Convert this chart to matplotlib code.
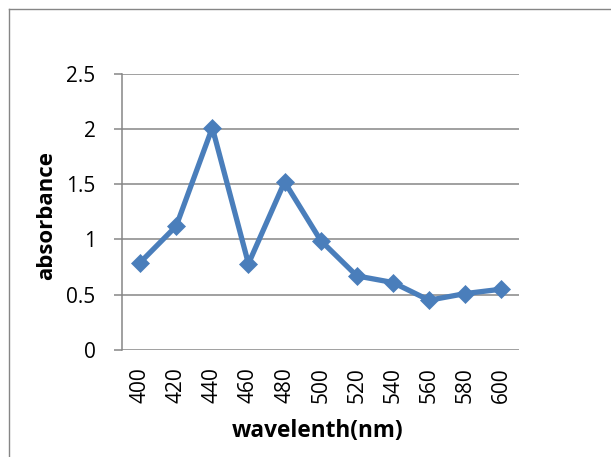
import matplotlib
matplotlib.use("Agg")
import matplotlib.pyplot as plt
from matplotlib.lines import Line2D

# absorbance spectrum readings
wavelengths = ["400", "420", "440", "460", "480", "500", "520", "540", "560", "580", "600"]
absorbance = [0.79, 1.12, 2.01, 0.78, 1.52, 0.99, 0.67, 0.61, 0.45, 0.51, 0.55]
y_ticks = [0, 0.5, 1, 1.5, 2, 2.5]
y_tick_labels = ["0", "0.5", "1", "1.5", "2", "2.5"]

LINE_BLUE = "#4a7ebb"
GRID_GRAY = "#868686"

plt.rcParams["font.family"] = ["Open Sans", "DejaVu Sans"]

W, H = 611, 457
fig = plt.figure(figsize=(W / 100, H / 100), dpi=100)
ax = fig.add_axes([122 / W, 1 - 350 / H, (519.4 - 122) / W, (350 - 73.5) / H])

x = list(range(len(wavelengths)))
ax.plot(x, absorbance, color=LINE_BLUE, lw=3.8, marker="D", ms=9.5,
        mfc=LINE_BLUE, mec=LINE_BLUE, mew=0.5, zorder=3, clip_on=False)

ax.set_xlim(-0.5, len(wavelengths) - 0.5)
ax.set_ylim(0, 2.5)
ax.set_yticks(y_ticks)
ax.set_yticklabels(y_tick_labels)
ax.set_xticks(x)
ax.set_xticklabels(wavelengths, rotation=90)

ax.grid(axis="y", color=GRID_GRAY, lw=1.1)
ax.set_axisbelow(True)
for side in ["top", "right", "bottom"]:
    ax.spines[side].set_visible(False)
ax.spines["left"].set_color(GRID_GRAY)
ax.spines["left"].set_linewidth(1.1)

ax.tick_params(axis="y", direction="out", length=6, width=1.1, color=GRID_GRAY,
               pad=13, labelsize=15)
ax.tick_params(axis="x", length=0, pad=12.5, labelsize=15)

# axis titles
fig.text(318 / W, 1 - 431 / H, "wavelenth(nm)", ha="center", va="center",
         fontsize=16.3, fontweight="bold")
fig.text(47 / W, 1 - 216 / H, "absorbance", ha="center", va="center",
         rotation=90, fontsize=16, fontweight="bold")

# chart area border (only top and left edges fall inside the image)
x0 = 8.5 / W
y0 = 1 - 8.5 / H
fig.add_artist(Line2D([x0, x0], [0, y0], color=GRID_GRAY, lw=1.0))
fig.add_artist(Line2D([x0, 1], [y0, y0], color=GRID_GRAY, lw=1.0))

fig.savefig("out.png", dpi=100)
